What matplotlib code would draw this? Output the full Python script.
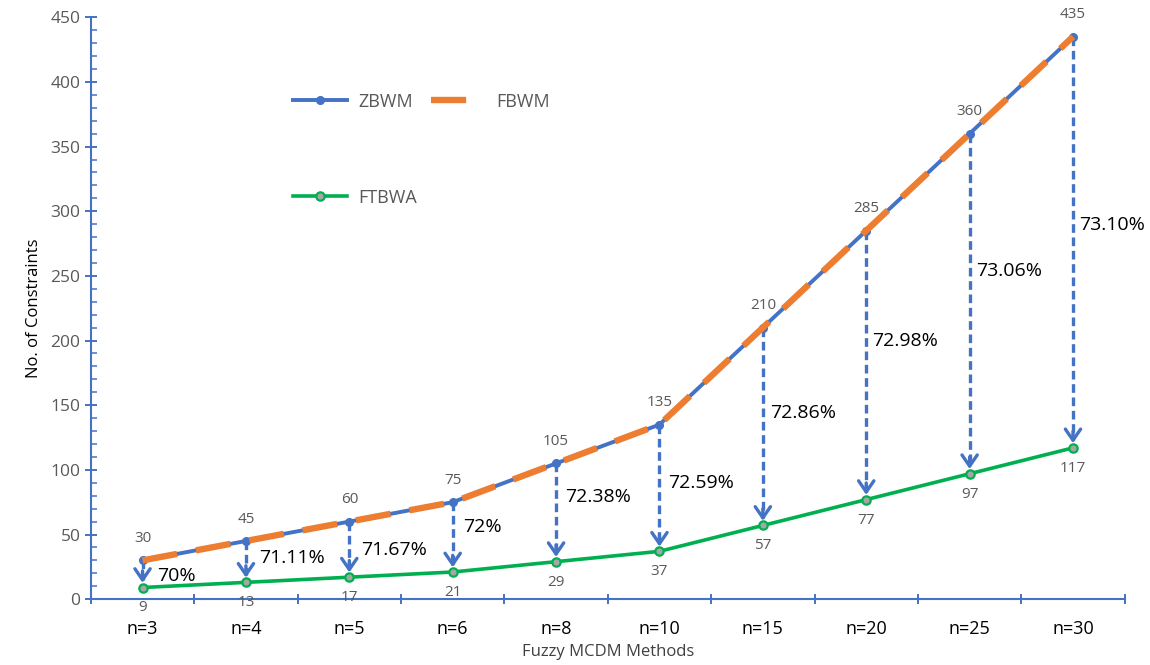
import matplotlib

matplotlib.use("Agg")
import matplotlib.pyplot as plt  # noqa: E402
from matplotlib.ticker import MultipleLocator, FixedLocator  # noqa: E402

plt.rcParams["font.family"] = ["Open Sans", "DejaVu Sans"]

BLUE = "#4472C4"
ORANGE = "#ED7D31"
GREEN = "#00B050"
GREY = "#595959"

methods = ["n=3", "n=4", "n=5", "n=6", "n=8", "n=10", "n=15", "n=20", "n=25", "n=30"]
zbwm = [30, 45, 60, 75, 105, 135, 210, 285, 360, 435]
fbwm = [30, 45, 60, 75, 105, 135, 210, 285, 360, 435]
ftbwa = [9, 13, 17, 21, 29, 37, 57, 77, 97, 117]
reduction = ["70%", "71.11%", "71.67%", "72%", "72.38%", "72.59%",
             "72.86%", "72.98%", "73.06%", "73.10%"]
# vertical placement of the reduction labels (in data units)
reduction_y = [18, 32, 38, 56, 79, 90, 144, 200, 254, 289]

fig = plt.figure(figsize=(11.5, 6.65), dpi=100)
ax = fig.add_axes([0.079, 0.099, 0.899, 0.875])
x = list(range(len(methods)))

# reduction arrows
for i, (top, bot) in enumerate(zip(zbwm, ftbwa)):
    ax.plot([i, i], [top, bot + 6], color=BLUE, lw=2.4, ls=(0, (2.6, 1.4)), zorder=2)
    ax.annotate("", xy=(i, bot + 1.5), xytext=(i, bot + 15),
                arrowprops=dict(arrowstyle="->,head_length=0.8,head_width=0.55",
                                color=BLUE, lw=2.4), zorder=2)

ax.plot(x, zbwm, color=BLUE, lw=2.8, marker="o", ms=5.5, zorder=3, label="ZBWM")
ax.plot(x, fbwm, color=ORANGE, lw=4.6, ls=(0, (5.5, 3)), zorder=4, label="FBWM")
ax.plot(x, ftbwa, color=GREEN, lw=2.6, marker="o", ms=6, mfc="#A6A6A6",
        mec=GREEN, mew=1.6, zorder=3, label="FTBWA")

for i in x:
    ax.text(i, zbwm[i] + 11, str(zbwm[i]), ha="center", va="bottom",
            fontsize=11, color=GREY)
    ax.text(i, ftbwa[i] - 10, str(ftbwa[i]), ha="center", va="top",
            fontsize=11, color=GREY)
    ax.text(i + 0.06 + max(0, 0.08 - 0.012 * i), reduction_y[i], reduction[i],
            ha="left", va="center", fontsize=14, color="black")

ax.set_xlim(-0.5, len(methods) - 0.5)
ax.set_ylim(0, 450)
ax.yaxis.set_major_locator(MultipleLocator(50))
ax.yaxis.set_minor_locator(MultipleLocator(10))
ax.set_xticks(x)
ax.set_xticklabels(methods, fontsize=13, color="black")
ax.xaxis.set_minor_locator(FixedLocator([i - 0.5 for i in range(len(methods) + 1)]))
ax.tick_params(axis="x", which="major", length=0, pad=15)
ax.tick_params(axis="x", which="minor", length=7, color=BLUE, width=1.4,
               direction="inout")
ax.tick_params(axis="y", which="major", length=8, color=BLUE, width=1.4,
               direction="inout", labelsize=12.5, labelcolor=GREY)
ax.tick_params(axis="y", which="minor", length=4, color=BLUE, width=1.1,
               direction="in")

for s in ("top", "right"):
    ax.spines[s].set_visible(False)
for s in ("left", "bottom"):
    ax.spines[s].set_color(BLUE)
    ax.spines[s].set_linewidth(1.5)

ax.set_xlabel("Fuzzy MCDM Methods", fontsize=12, color="#404040", labelpad=4)
ax.set_ylabel("No. of Constraints", fontsize=12, color="black", labelpad=6)

handles, labels = ax.get_legend_handles_labels()
leg1 = ax.legend(handles[:2], labels[:2], ncol=2, frameon=False,
                 loc="center left", bbox_to_anchor=(0.18, 0.855),
                 fontsize=13, labelcolor=GREY, handlelength=3,
                 handletextpad=0.6, columnspacing=1.0)
ax.add_artist(leg1)
ax.legend(handles[2:], labels[2:], frameon=False, loc="center left",
          bbox_to_anchor=(0.18, 0.69), fontsize=13, labelcolor=GREY,
          handlelength=3, handletextpad=0.6)

fig.savefig("out.png", dpi=100)
